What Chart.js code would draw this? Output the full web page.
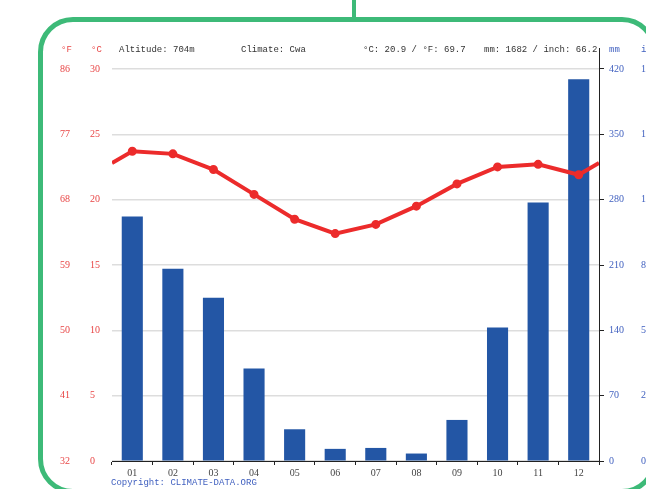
<!DOCTYPE html>
<html>
<head>
<meta charset="utf-8">
<script src="https://cdn.jsdelivr.net/npm/chart.js@4/dist/chart.umd.min.js"></script>
<style>
  html, body { margin: 0; padding: 0; background: #fff; }
  #wrap { position: relative; width: 646px; height: 489px; overflow: hidden; }
  #chart { position: absolute; left: 0; top: 0; }
  .frame {
    position: absolute; left: 38px; top: 17px; width: 619px; height: 477px;
    box-sizing: border-box; border: 5px solid #3dba78; border-radius: 35px;
    pointer-events: none;
  }
  .stem { position: absolute; left: 352px; top: 0; width: 4px; height: 19px; background: #3dba78; }
  .txt {
    position: absolute; top: 45px; font: 9px "Liberation Mono", monospace;
    line-height: 10px; color: #333; white-space: nowrap;
  }
  .red { color: #e84545; }
  .blue { color: #3f5fbf; }
</style>
</head>
<body>
<div id="wrap">
  <canvas id="chart" width="646" height="489"></canvas>
  <div class="frame"></div>
  <div class="stem"></div>
  <span class="txt red" style="left:61px">°F</span>
  <span class="txt red" style="left:91px">°C</span>
  <span class="txt" style="left:119px">Altitude: 704m</span>
  <span class="txt" style="left:241px">Climate: Cwa</span>
  <span class="txt" style="left:363px">°C: 20.9 / °F: 69.7</span>
  <span class="txt" style="left:484px">mm: 1682 / inch: 66.2</span>
  <span class="txt blue" style="left:609px">mm</span>
  <span class="txt blue" style="left:641px">in</span>
  <span class="txt blue" style="left:111px; top:478px">Copyright: CLIMATE-DATA.ORG</span>
</div>
<script>
  // values
  const months = ["01", "02", "03", "04", "05", "06", "07", "08", "09", "10", "11", "12"];
  const precipMm = [262, 206, 175, 99, 34, 13, 14, 8, 44, 143, 277, 409];
  const tempC = [23.7, 23.5, 22.3, 20.4, 18.5, 17.4, 18.1, 19.5, 21.2, 22.5, 22.7, 21.9];
  const tempEdge = 22.8; // where the line meets both plot edges

  const cTicks = [0, 5, 10, 15, 20, 25, 30];
  const fTicks = [32, 41, 50, 59, 68, 77, 86];
  const mmTicks = [0, 70, 140, 210, 280, 350, 420];
  const inchLabels = ["0", "2.8", "5.5", "8.3", "11.0", "13.8", "16.5"];

  // the axis line on the right reaches a bit above the top grid line
  const cMax = 31.6;
  const mmMax = 442.5;
  const fMax = 32 + cMax * 1.8;

  const linePoints = [{ x: 0.5, y: tempEdge }]
    .concat(tempC.map((t, i) => ({ x: i + 1, y: t })))
    .concat([{ x: 12.5, y: tempEdge }]);
  const pointSizes = linePoints.map((p, i) => (i === 0 || i === linePoints.length - 1 ? 0 : 2.5));

  const setTicks = (vals) => (scale) => {
    scale.ticks = vals.map((v) => ({ value: v }));
  };
  const setWidth = (w) => (scale) => {
    scale.width = w;
  };

  Chart.defaults.font.family = "'Liberation Serif', serif";
  Chart.defaults.font.size = 10;

  const red = "#ec2b2b";

  new Chart(document.getElementById("chart"), {
    data: {
      labels: months,
      datasets: [
        {
          type: "line",
          data: linePoints,
          xAxisID: "xLine",
          yAxisID: "yT",
          borderColor: red,
          backgroundColor: red,
          pointBackgroundColor: red,
          pointBorderColor: red,
          borderWidth: 4,
          pointRadius: pointSizes,
          tension: 0,
          order: 0,
        },
        {
          type: "bar",
          data: precipMm,
          xAxisID: "x",
          yAxisID: "yP",
          backgroundColor: "#2356a5",
          borderWidth: 0,
          grouped: false,
          categoryPercentage: 1,
          barPercentage: 0.52,
          order: 1,
        },
      ],
    },
    options: {
      responsive: false,
      animation: false,
      layout: { padding: { left: 60, right: 0, top: 48, bottom: 8 } },
      plugins: { legend: { display: false }, tooltip: { enabled: false } },
      scales: {
        x: {
          type: "category",
          offset: true,
          grid: { offset: true, drawOnChartArea: false, tickLength: 4, color: "#222" },
          border: { color: "#222" },
          ticks: { color: "#444", padding: 2, maxRotation: 0 },
          afterFit: (s) => { s.height = 20; },
        },
        xLine: { type: "linear", display: false, min: 0.5, max: 12.5 },
        yT: {
          position: "left",
          weight: 0,
          min: 0,
          max: cMax,
          afterBuildTicks: setTicks(cTicks),
          afterFit: setWidth(22),
          grid: { color: "#dddddd", lineWidth: 1.5, drawTicks: false },
          border: { display: false },
          ticks: { color: "#e84545", crossAlign: "far", padding: 0 },
        },
        yF: {
          position: "left",
          weight: 1,
          min: 32,
          max: fMax,
          afterBuildTicks: setTicks(fTicks),
          afterFit: setWidth(30),
          grid: { display: false },
          border: { display: false },
          ticks: { color: "#e84545", crossAlign: "far", padding: 0 },
        },
        yP: {
          position: "right",
          weight: 0,
          min: 0,
          max: mmMax,
          afterBuildTicks: setTicks(mmTicks),
          afterFit: setWidth(31),
          grid: { drawOnChartArea: false, tickLength: 5, color: "#222" },
          border: { color: "#222" },
          ticks: { color: "#3f5fbf", padding: 5 },
        },
        yIn: {
          position: "right",
          weight: 1,
          min: 0,
          max: mmMax,
          afterBuildTicks: setTicks(mmTicks),
          afterFit: setWidth(16),
          grid: { display: false, drawTicks: false },
          border: { display: false },
          ticks: {
            color: "#3f5fbf",
            padding: 11,
            callback: (v, i) => inchLabels[i],
          },
        },
      },
    },
  });
</script>
</body>
</html>
